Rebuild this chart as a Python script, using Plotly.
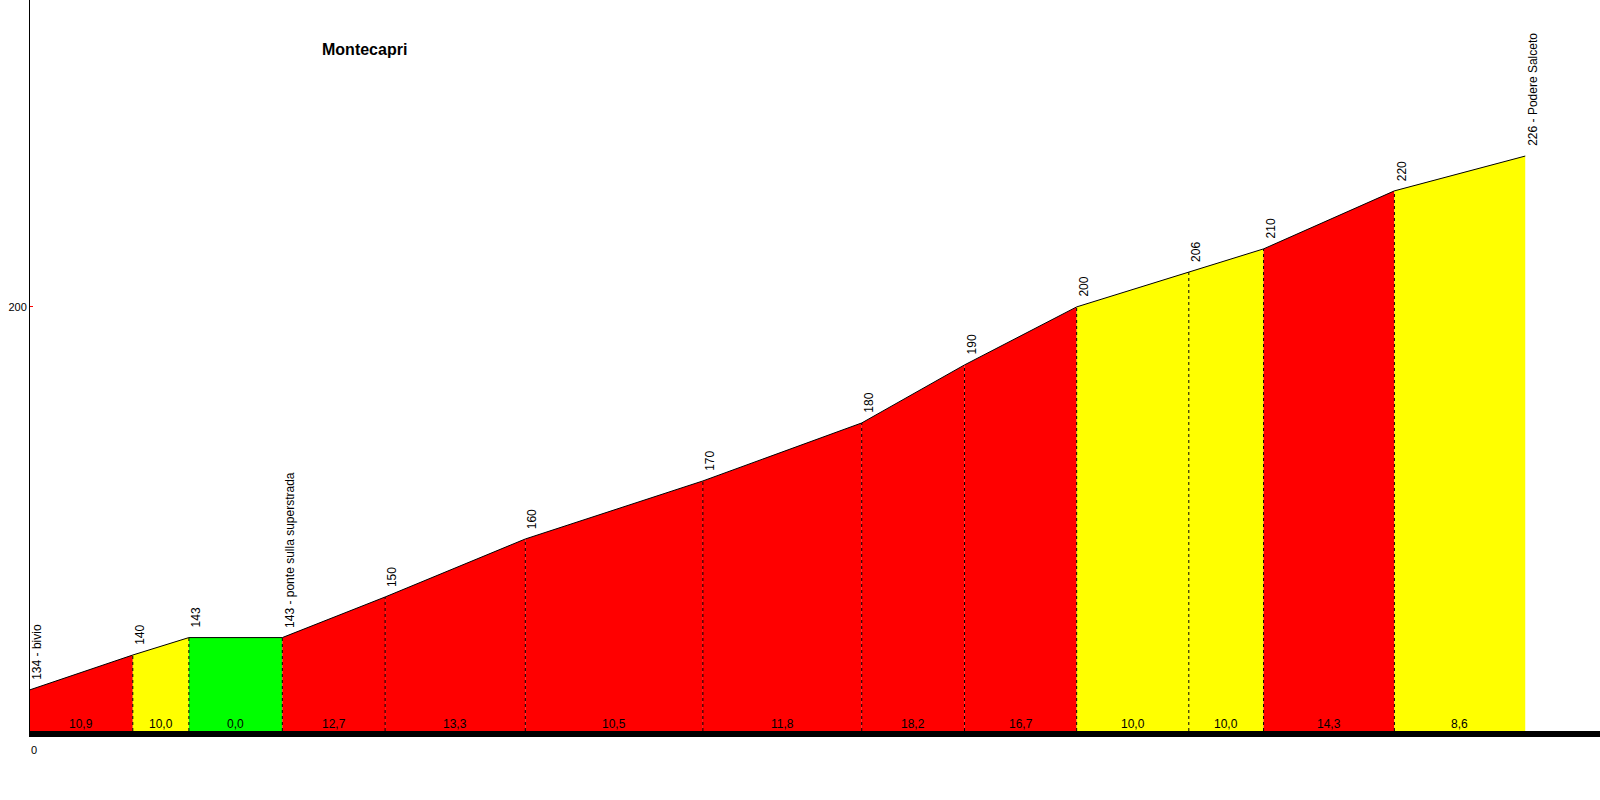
import plotly.graph_objects as go

# ---- data ----
distances = [0, 55, 85, 135, 190, 265, 360, 445, 500, 560, 620, 660, 730, 800]  # metres
elevations = [134, 140, 143, 143, 150, 160, 170, 180, 190, 200, 206, 210, 220, 226]
point_labels = ["134 - bivio", "140", "143", "143 - ponte sulla superstrada", "150", "160",
                "170", "180", "190", "200", "206", "210", "220", "226 - Podere Salceto"]
gradients = [10.9, 10.0, 0.0, 12.7, 13.3, 10.5, 11.8, 18.2, 16.7, 10.0, 10.0, 14.3, 8.6]
title_text = "Montecapri"
y_ticks = [200]
x_ticks = [0]

# ---- scales ----
Y_MIN, Y_MAX = 126.9, 252.9
X_MIN, X_MAX = 0, 840
FONT = "Liberation Sans, Arial, sans-serif"


def grad_color(g):
    if g > 10:
        return "#FF0000"
    if g > 0:
        return "#FFFF00"
    return "#00FF00"


fig = go.Figure()

# coloured segments
for i, g in enumerate(gradients):
    x0, x1 = distances[i], distances[i + 1]
    e0, e1 = elevations[i], elevations[i + 1]
    fig.add_trace(go.Scatter(
        x=[x0, x0, x1, x1, x0], y=[Y_MIN, e0, e1, Y_MIN, Y_MIN],
        fill="toself", fillcolor=grad_color(g), mode="lines",
        line=dict(width=0, color=grad_color(g)), hoverinfo="skip", showlegend=False))

# dashed separators at internal points
vx, vy = [], []
for d, e in zip(distances[1:-1], elevations[1:-1]):
    vx += [d, d, None]
    vy += [Y_MIN, e, None]
fig.add_trace(go.Scatter(x=vx, y=vy, mode="lines",
                         line=dict(color="black", width=1, dash="3px,3px"),
                         hoverinfo="skip", showlegend=False))

# profile line
fig.add_trace(go.Scatter(x=distances, y=elevations, mode="lines",
                         line=dict(color="black", width=1), showlegend=False))

annotations = []
# point labels (rotated)
for d, e, t in zip(distances, elevations, point_labels):
    annotations.append(dict(x=d, y=e, xref="x", yref="y", text=t, textangle=-90,
                            showarrow=False, xanchor="center", yanchor="bottom",
                            xshift=7, yshift=8,
                            font=dict(family=FONT, size=12, color="black")))
# gradient labels
for i, g in enumerate(gradients):
    mid = (distances[i] + distances[i + 1]) / 2
    annotations.append(dict(x=mid, y=0, xref="x", yref="paper",
                            text=f"{g:.1f}".replace(".", ","), showarrow=False,
                            xanchor="center", yanchor="bottom", yshift=-2,
                            font=dict(family=FONT, size=12, color="black")))
# x tick label
for xt in x_ticks:
    annotations.append(dict(x=xt, y=0, xref="x", yref="paper", text=str(xt),
                            showarrow=False, xanchor="left", yanchor="top",
                            xshift=-1, yshift=-11,
                            font=dict(family=FONT, size=11, color="black")))
# title (paper coordinates of pixel position x=320, y=50)
annotations.append(dict(x=(320 - 30) / 1570, y=(731 - 50) / 731, xref="paper", yref="paper",
                        text=f"<b>{title_text}</b>",
                        showarrow=False, xanchor="left", yanchor="middle",
                        font=dict(family=FONT, size=16, color="black")))

fig.update_layout(
    width=1600, height=800,
    margin=dict(l=30, r=0, t=0, b=69),
    paper_bgcolor="white", plot_bgcolor="white",
    showlegend=False,
    annotations=annotations,
    font=dict(family=FONT),
    xaxis=dict(range=[X_MIN, X_MAX], showgrid=False, zeroline=False,
               showline=True, linecolor="black", linewidth=6,
               showticklabels=False, ticks=""),
    yaxis=dict(range=[Y_MIN, Y_MAX], showgrid=False, zeroline=False,
               showline=True, linecolor="black", linewidth=1,
               tickvals=y_ticks, ticktext=[str(v) for v in y_ticks],
               ticks="inside", ticklen=3, tickcolor="red",
               tickfont=dict(family=FONT, size=11, color="black")),
)

fig.write_html("out.html", config={"displayModeBar": False},
               post_script="document.body.style.margin='0';")
